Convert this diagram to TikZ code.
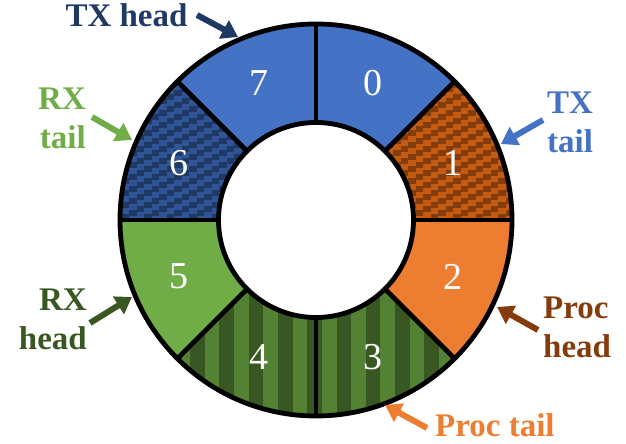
\documentclass[tikz,border=0pt]{standalone}
\usepackage{fontspec}
\setmainfont{Liberation Serif}
\usetikzlibrary{arrows.meta}
\definecolor{blueA}{HTML}{4472C4}
\definecolor{blueD}{HTML}{1F3864}
\definecolor{blueM}{HTML}{2F5597}
\definecolor{greenA}{HTML}{70AD47}
\definecolor{greenM}{HTML}{548235}
\definecolor{greenD}{HTML}{385723}
\definecolor{orangeA}{HTML}{ED7D31}
\definecolor{orangeM}{HTML}{C55A11}
\definecolor{orangeD}{HTML}{843C0C}
\begin{document}
\begin{tikzpicture}[x=1pt,y=1pt,
  ring/.style={line width=4.8pt,black},
  num/.style={text=white,font=\fontsize{38}{40}\selectfont,inner sep=0pt},
  lbl/.style={font=\bfseries\fontsize{33}{39}\selectfont,inner sep=0pt},
  ptr/.style={line width=6pt,-{Triangle[length=16pt,width=20pt]}}]
\useasboundingbox (0,0) rectangle (626,444);
\coordinate (c) at (316,224);
\def\Ro{196}\def\Ri{97.5}
\def\sector#1#2{([shift={(#1:\Ro)}]c) arc[start angle=#1,end angle=#2,radius=\Ro] -- ([shift={(#2:\Ri)}]c) arc[start angle=#2,end angle=#1,radius=\Ri] -- cycle}
% fills
\fill[blueA] \sector{45}{90};
\fill[orangeM] \sector{0}{45};
\fill[orangeA] \sector{-45}{0};
\fill[greenM] \sector{-135}{-45};
\fill[greenA] \sector{-180}{-135};
\fill[blueM] \sector{135}{180};
\fill[blueA] \sector{90}{135};
% vertical stripes (3,4)
\begin{scope}
\clip \sector{-135}{-45};
\foreach \k in {-1,...,10} \fill[greenD] ({190+29.3*\k},20) rectangle ++(14.6,140);
\end{scope}
% stepped diagonal pattern (6)
\begin{scope}
\clip \sector{135}{180};
\foreach \i in {0,...,19} \foreach \j in {-8,...,13}
  \fill[blueD] ({114+7.5*\i},{220+12*\j+4*\i}) rectangle ++(7.6,6);
\end{scope}
% stepped diagonal pattern (1)
\begin{scope}
\clip \sector{0}{45};
\foreach \i in {0,...,19} \foreach \j in {-8,...,13}
  \fill[orangeD] ({378+7.5*\i},{220+12*\j+4*\i}) rectangle ++(7.6,6);
\end{scope}
% outlines
\draw[ring] (c) circle[radius=\Ro];
\draw[ring] (c) circle[radius=\Ri];
\foreach \a in {0,45,...,315} \draw[ring] ([shift={(\a:\Ri)}]c) -- ([shift={(\a:\Ro)}]c);
% numbers
\foreach \k in {0,...,7} \node[num] (n\k) at ([shift={(67.5-45*\k:148)}]c) {\k};
% labels (base anchor = last line)
\node[lbl,text=blueD,anchor=base] (txh) at (126.5,417) {TX head};
\node[lbl,text=greenA,align=right,anchor=base east] (rxt) at (86,295) {RX\\tail};
\node[lbl,text=greenD,align=right,anchor=base east] (rxh) at (87,94) {RX\\head};
\node[lbl,text=blueA,align=left,anchor=base west] (txt) at (547,291) {TX\\tail};
\node[lbl,text=orangeD,align=left,anchor=base west] (prh) at (543,86) {Proc\\head};
\node[lbl,text=orangeA,anchor=base west] (prt) at (435,7) {Proc tail};
% arrows
\coordinate (a1s) at (197,429); \coordinate (a1e) at (238,407);
\coordinate (a2s) at (92,327);  \coordinate (a2e) at (132,304);
\coordinate (a3s) at (90,121);  \coordinate (a3e) at (132,147);
\coordinate (a4s) at (543,324); \coordinate (a4e) at (501,300);
\coordinate (a5s) at (538,114); \coordinate (a5e) at (497,137);
\coordinate (a6s) at (427,16);  \coordinate (a6e) at (385,39);
\draw[ptr,blueD] (a1s) -- (a1e);
\draw[ptr,greenA] (a2s) -- (a2e);
\draw[ptr,greenD] (a3s) -- (a3e);
\draw[ptr,blueA] (a4s) -- (a4e);
\draw[ptr,orangeD] (a5s) -- (a5e);
\draw[ptr,orangeA] (a6s) -- (a6e);
\end{tikzpicture}
\end{document}
